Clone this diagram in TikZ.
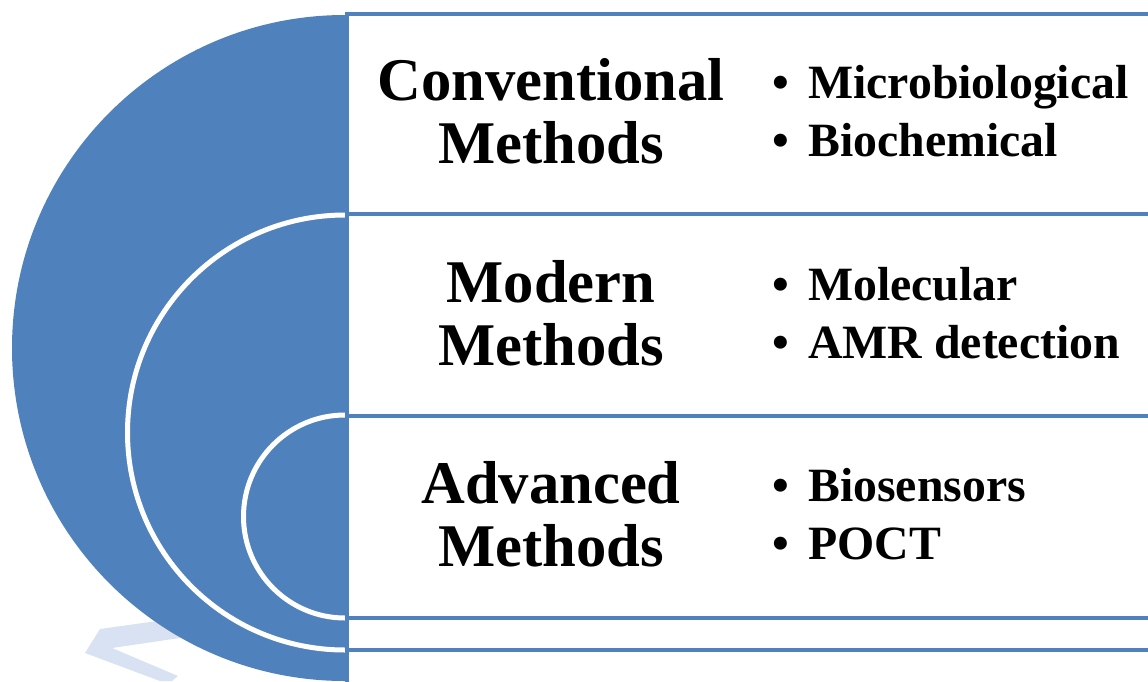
\documentclass[tikz,border=0pt]{standalone}
\usepackage{fontspec}
\setmainfont{Liberation Serif}
\usetikzlibrary{positioning}
\definecolor{ringblue}{HTML}{4F81BD}
\definecolor{markblue}{HTML}{D8E2F3}

\begin{document}
\begin{tikzpicture}[x=0.02cm,y=0.02cm,
  ring/.style={fill=ringblue,draw=white,line width=0.1cm},
  panel/.style={fill=white,draw=ringblue,line width=0.08cm},
  title/.style={font=\fontsize{34.5}{35.5}\selectfont\bfseries,align=center,anchor=base,inner sep=0pt},
  items/.style={font=\fontsize{27.2}{33}\selectfont\bfseries,align=left,anchor=base west,inner sep=0pt}]
  \useasboundingbox (0,0) rectangle (1148,681);
  \clip (0,0) rectangle (1148,681);

  % faint mark behind the rings
  \fill[markblue] (85,28) -- (100,52) -- (200,66) -- (200,46) -- (112,33)
    -- (178,5) -- (172,0) -- (160,0) -- cycle;

  \fill[ringblue] (345,666) arc[start angle=90,end angle=270,radius=333] -- cycle;
  \path[ring] (345,466) arc[start angle=90,end angle=270,radius=217.5];
  \path[ring] (345,266) arc[start angle=90,end angle=270,radius=101.5];

  \draw[panel] (347,-20) rectangle (1170,666.5);
  \draw[panel] (347,31) rectangle (1170,467.5);
  \draw[panel] (347,63.5) rectangle (1170,265.5);

  % anchor base sits on the last line
  \node[title] (conv) at (551,518) {Conventional\\Methods};
  \node[items] (convlist) at (772,525) {\textbullet\hspace{0.4em}Microbiological\\\textbullet\hspace{0.4em}Biochemical};

  \node[title] (modern) at (551,316) {Modern\\Methods};
  \node[items] (modernlist) at (772,323) {\textbullet\hspace{0.4em}Molecular\\\textbullet\hspace{0.4em}AMR detection};

  \node[title] (adv) at (551,115) {Advanced\\Methods};
  \node[items] (advlist) at (772,122) {\textbullet\hspace{0.4em}Biosensors\\\textbullet\hspace{0.4em}POCT};
\end{tikzpicture}
\end{document}
